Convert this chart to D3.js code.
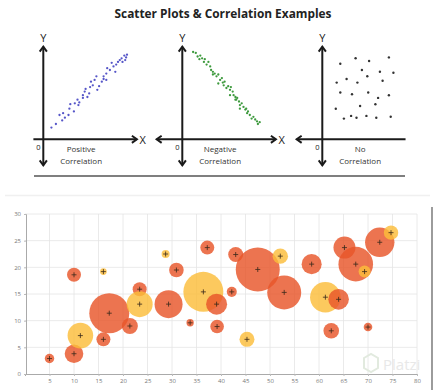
<!DOCTYPE html>
<html><head><meta charset="utf-8">
<script src="https://cdn.jsdelivr.net/npm/d3@7"></script>
<style>html,body{margin:0;padding:0;background:#fff;}svg{display:block;}</style>
</head><body>
<script>
// ---------- Data: top illustration ----------
const titleText = "Scatter Plots & Correlation Examples";
const panelLabels = [["Positive","Correlation"],["Negative","Correlation"],["No","Correlation"]];
const positiveX = [0.9,1.4,1.8,2.1,2.2,2.4,2.8,2.9,3.0,3.4,3.5,3.8,3.9,4.0,4.4,4.4,4.6,4.7,4.9,5.1,5.2,5.3,5.5,5.7,5.9,6.0,6.2,6.5,6.7,6.7,7.0,7.0,7.1,7.4,7.6,7.8,8.0,8.1,8.3,8.5,8.7,9.0,9.2,9.3,9.1,8.8];
const positiveY = [1.3,1.7,2.7,2.1,2.9,2.4,2.7,3.4,3.9,3.1,4.0,4.4,3.8,4.1,4.6,4.9,5.3,5.6,4.7,5.1,5.8,6.4,6.0,6.6,7.0,5.5,5.9,6.4,6.7,7.0,6.6,7.3,7.9,7.7,8.5,8.1,7.5,8.3,8.6,8.8,9.0,9.3,9.1,9.4,8.8,8.6];
const negativeX = [1.2,1.5,1.7,1.9,2.0,2.2,2.4,2.5,2.7,2.9,3.1,3.2,3.4,3.4,3.6,3.8,4.0,4.2,4.4,4.5,4.6,4.7,4.9,5.1,5.3,5.4,5.6,5.7,5.9,6.0,6.1,6.3,6.4,6.6,6.8,7.0,7.1,7.2,7.3,7.5,7.7,7.9,8.1,8.3,8.4,8.6,6.4,5.9,5.3,4.0];
const negativeY = [9.7,9.6,9.2,8.9,9.3,9.0,8.6,8.9,8.3,8.6,8.1,7.7,7.5,7.2,7.3,7.0,7.2,6.6,6.8,6.3,6.0,6.4,5.7,5.9,5.5,5.8,5.3,4.9,4.7,4.4,4.6,4.2,3.8,4.0,3.6,3.3,3.4,2.9,3.1,2.7,2.3,2.5,2.2,2.0,1.7,1.9,3.4,4.4,4.9,6.2];
const noneX = [2.0,3.7,5.2,7.4,4.4,6.4,7.9,1.6,2.7,3.9,5.0,6.7,2.0,3.3,5.1,6.2,7.4,1.5,4.2,5.9,2.4,3.2,3.8,4.9,6.0,7.6];
const noneY = [8.4,9.0,8.7,9.1,7.7,7.5,7.4,6.3,6.7,6.3,7.0,6.5,5.2,5.0,5.2,4.6,4.9,3.4,3.7,3.9,2.3,2.6,2.4,2.6,2.4,2.5];

// ---------- Data: bubble chart ----------
const xTicks = [5,10,15,20,25,30,35,40,45,50,55,60,65,70,75,80];
const yTicks = [0,5,10,15,20,25,30];
const bubbleX = [5,10,11.3,10,16,16,17.2,21.4,23.4,23.4,28.7,29.3,30.9,33.7,36.4,37.2,39.1,39.2,42.2,43,45.3,47.5,52.1,52.9,58.5,61.3,64,62.5,65.2,67.5,69.3,70,72.4,74.7];
const bubbleY = [2.9,3.8,7.2,18.6,19.2,6.5,11.4,9.0,15.9,13.1,22.5,13.1,19.5,9.6,15.4,23.7,13.1,8.9,15.4,22.4,6.5,19.6,22.1,15.3,20.6,14.4,14.0,8.1,23.7,20.6,19.2,8.8,24.7,26.5];
const bubbleSize = [4.6,17.9,33.9,10.1,2.3,10.1,82.6,13.2,10.1,34.9,3.3,40.5,11,2.8,82.6,10.1,22.8,9.6,5.2,11.6,11.6,100,12.3,59.7,20.7,48.4,21.9,12.6,25,61.8,7.4,3.8,44.6,10.7];
const bubbleGroup = ["A","A","B","A","B","A","A","A","A","B","B","A","A","A","B","A","A","A","A","A","B","A","B","A","A","B","A","A","A","A","B","A","A","B"];
const watermarkText = "Platzi";

const W = 438, H = 390;
const svg = d3.select("body").append("svg").attr("width", W).attr("height", H);

// ---------- Top illustration ----------
svg.append("text").attr("x", 223).attr("y", 17.5).attr("text-anchor","middle")
  .attr("font-family","'Open Sans', 'Noto Sans', sans-serif").attr("font-weight","bold")
  .attr("font-size",12.5).attr("fill","#222").attr("textLength",217).attr("lengthAdjust","spacingAndGlyphs")
  .text(titleText);

const panels = [
  {ox:43.3, oy:139.3, xs:-1.1, xe:10.4, leftArrow:false, rightArrow:true, xs2:positiveX, ys2:positiveY, color:"#5656c8", r:1.15, lab:panelLabels[0]},
  {ox:182.3, oy:139.3, xs:-2.85, xe:10.4, leftArrow:true, rightArrow:true, xs2:negativeX, ys2:negativeY, color:"#3e9a3e", r:1.15, lab:panelLabels[1]},
  {ox:322.3, oy:139.3, xs:-2.85, xe:9.25, leftArrow:true, rightArrow:false, xs2:noneX, ys2:noneY, color:"#333", r:1.2, lab:panelLabels[2]}
];

function arrowHead(g, x, y, dir) {
  const a = 5, b = 3.6;
  let d;
  if (dir==='up') d = `M${x-b},${y+a} L${x},${y} L${x+b},${y+a}`;
  if (dir==='down') d = `M${x-b},${y-a} L${x},${y} L${x+b},${y-a}`;
  if (dir==='left') d = `M${x+a},${y-b} L${x},${y} L${x+a},${y+b}`;
  if (dir==='right') d = `M${x-a},${y-b} L${x},${y} L${x-a},${y+b}`;
  g.append("path").attr("d", d).attr("fill","none").attr("stroke","#1a1a1a").attr("stroke-width",2).attr("stroke-linejoin","miter");
}

panels.forEach(p => {
  const g = svg.append("g");
  const sx = d3.scaleLinear().domain([0,10]).range([p.ox, p.ox+90]);
  const sy = d3.scaleLinear().domain([0,10]).range([p.oy, p.oy-90]);
  g.append("line").attr("x1", sx(0)).attr("x2", sx(0)).attr("y1", sy(10.3)).attr("y2", sy(-2.9))
    .attr("stroke","#1a1a1a").attr("stroke-width",2);
  arrowHead(g, sx(0), sy(10.3), 'up');
  arrowHead(g, sx(0), sy(-2.9), 'down');
  g.append("line").attr("x1", sx(p.xs)).attr("x2", sx(p.xe)).attr("y1", sy(0)).attr("y2", sy(0))
    .attr("stroke","#1a1a1a").attr("stroke-width",2);
  if (p.leftArrow) arrowHead(g, sx(p.xs), sy(0), 'left');
  if (p.rightArrow) {
    arrowHead(g, sx(p.xe), sy(0), 'right');
    g.append("text").attr("x", sx(11.05)).attr("y", sy(0)+4.2).attr("text-anchor","middle")
      .attr("font-family","'Open Sans', sans-serif").attr("font-size",11).attr("fill","#222").text("X");
  }
  g.append("text").attr("x", sx(0)).attr("y", 41.5).attr("text-anchor","middle")
    .attr("font-family","'Open Sans', sans-serif").attr("font-size",11).attr("fill","#222").text("Y");
  g.append("text").attr("x", sx(-0.55)).attr("y", sy(0)+10.3).attr("text-anchor","middle")
    .attr("font-family","'Open Sans', sans-serif").attr("font-size",7.5).attr("fill","#222").text("0");
  g.append("text").attr("x", sx(4.2)).attr("y", 152.2).attr("text-anchor","middle")
    .attr("font-family","'Open Sans', sans-serif").attr("font-size",8).attr("fill","#333").text(p.lab[0]);
  g.append("text").attr("x", sx(4.2)).attr("y", 163.8).attr("text-anchor","middle")
    .attr("font-family","'Open Sans', sans-serif").attr("font-size",8).attr("fill","#333").text(p.lab[1]);
  g.selectAll("circle.dot").data(p.xs2.map((v,i)=>[v,p.ys2[i]])).enter().append("circle")
    .attr("cx", d=>sx(d[0])).attr("cy", d=>sy(d[1])).attr("r", p.r).attr("fill", p.color);
});

// separator lines
svg.append("line").attr("x1",34).attr("x2",405).attr("y1",176).attr("y2",176)
  .attr("stroke","#555").attr("stroke-width",1.5);
svg.append("line").attr("x1",5).attr("x2",430).attr("y1",195.5).attr("y2",195.5)
  .attr("stroke","#f0f0f0").attr("stroke-width",1.5);
svg.append("line").attr("x1",432).attr("x2",432).attr("y1",207).attr("y2",390)
  .attr("stroke","#666").attr("stroke-width",1.3);

// ---------- Bubble chart ----------
const x = d3.scaleLinear().domain([0,80]).range([25,417]);
const y = d3.scaleLinear().domain([0,30]).range([374,214]);
const r = d3.scaleSqrt().domain([0,100]).range([0,22]);
const color = d3.scaleOrdinal().domain(["A","B"]).range(["#e8552a","#fbbd3a"]);

const bc = svg.append("g");
bc.append("g").selectAll("line").data(xTicks).enter().append("line")
  .attr("x1", d=>x(d)).attr("x2", d=>x(d)).attr("y1", y(0)).attr("y2", y(30))
  .attr("stroke","#e4e4e4").attr("stroke-width",0.8);
bc.append("g").selectAll("line").data(yTicks.filter(d=>d>0)).enter().append("line")
  .attr("x1", x(0)).attr("x2", x(80)).attr("y1", d=>y(d)).attr("y2", d=>y(d))
  .attr("stroke","#e4e4e4").attr("stroke-width",0.8);

// watermark
const wm = svg.append("g");
wm.append("path").attr("d","M364,358 L371,354 L378,358 L378,368 L371,372 L364,368 Z")
  .attr("fill","none").attr("stroke","#e2eadf").attr("stroke-width",2);
wm.append("text").attr("x",383).attr("y",370).attr("font-family","'Open Sans', sans-serif")
  .attr("font-size",15).attr("fill","#e8e8e8").text(watermarkText);

const xAxis = d3.axisBottom(x).tickValues(xTicks).tickSize(2).tickPadding(3);
const gx = bc.append("g").attr("transform",`translate(0,${y(0)})`).call(xAxis);
const yAxis = d3.axisLeft(y).tickValues(yTicks).tickSize(2).tickPadding(3);
const gy = bc.append("g").attr("transform",`translate(${x(0)+1},0)`).call(yAxis);
[gx, gy].forEach(g => {
  g.select(".domain").attr("stroke","#aaa");
  g.selectAll(".tick line").attr("stroke","#bbb");
  g.selectAll(".tick text").attr("fill","#777").attr("font-size",6).attr("font-family","'Open Sans', sans-serif");
});

const bubbles = bubbleX.map((v,i)=>({x:v, y:bubbleY[i], s:bubbleSize[i], g:bubbleGroup[i]}));
bc.append("g").selectAll("circle").data(bubbles).enter().append("circle")
  .attr("cx", d=>x(d.x)).attr("cy", d=>y(d.y)).attr("r", d=>r(d.s))
  .attr("fill", d=>color(d.g)).attr("fill-opacity",0.82);
const cross = bc.append("g").attr("stroke","#3a2a1a").attr("stroke-width",0.8);
bubbles.forEach(d => {
  cross.append("line").attr("x1", x(d.x)-2.5).attr("x2", x(d.x)+2.5).attr("y1", y(d.y)).attr("y2", y(d.y));
  cross.append("line").attr("x1", x(d.x)).attr("x2", x(d.x)).attr("y1", y(d.y)-2.5).attr("y2", y(d.y)+2.5);
});
</script>
</body></html>
